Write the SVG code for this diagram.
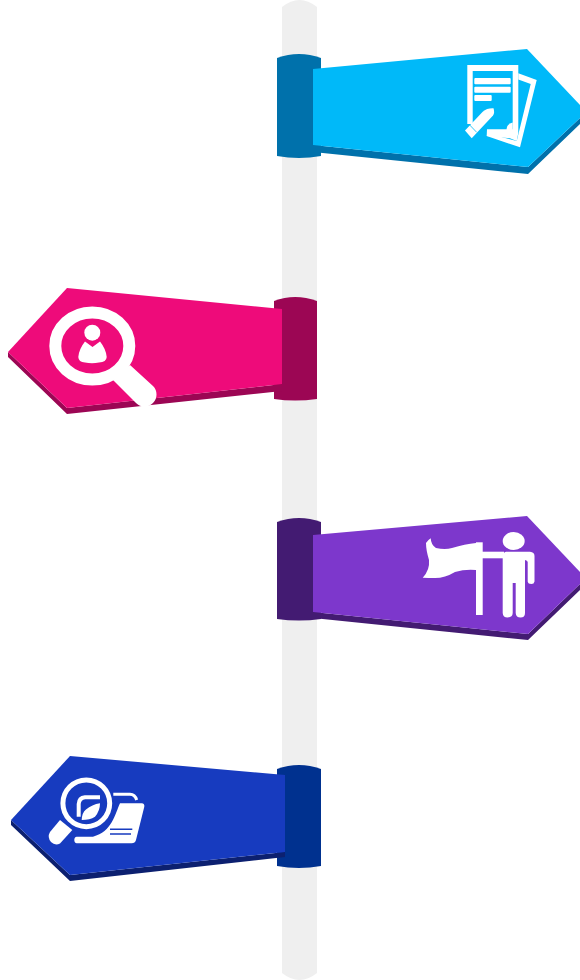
<svg xmlns="http://www.w3.org/2000/svg" width="580" height="980" viewBox="0 0 580 980">
<style>
.w{fill:#fff}
.wl{fill:none;stroke:#fff}
</style>
<rect width="580" height="980" fill="#fff"/>
<path id="pole" d="M282 7Q299.500 -7 317 7V973Q299.500 987 282 973Z" fill="#efefef"/>

<g id="sign-document">
<path d="M277 58Q299 50 321 58V156Q299 160 277 156Z" fill="#0071ab"/>
<path d="M313 145V152L528 174L580 124V118L528 167Z" fill="#0071ab"/>
<path d="M313 69L527 49L580 105V118L528 167L313 145Z" fill="#00b9f9"/>
<path class="w" fill-rule="evenodd" d="M467.300 65H518.300V133L516.700 141L510 138.300L486.700 136L487 129.300H512.700V71H472.700V124H467.300Z"/>
<path class="w" fill-rule="evenodd" d="M518.300 73.300L536.700 80L520 147.300L486.700 136L488 133.500L516.700 141L530.700 84L518.300 79.500Z"/>
<path class="w" d="M506.500 130Q506.500 124 512.700 122.500V132L506.500 135Z"/>
<rect class="w" x="474.300" y="78" width="36.400" height="6.300" rx="1"/>
<rect class="w" x="474.300" y="86.700" width="36.400" height="6" rx="1"/>
<rect class="w" x="474.300" y="95" width="17.400" height="6" rx="1"/>
<path class="w" d="M493.500 108.300Q495 112.500 493 115.500L471.700 138.300L465 130.500L482.700 111.700Q487 108 493.500 108.300Z"/>
<path d="M469.700 125L476.700 132.300" stroke="#00b9f9" stroke-width="0.800" fill="none"/>
</g>

<g id="sign-search-person">
<path d="M274 301Q295 293 317 301V399Q295 402 274 399Z" fill="#9c0654"/>
<path d="M8 352V357L67 414L282 391V384L67 408Z" fill="#9c0654"/>
<path d="M67 288L282 309V384L67 408L8 352Z" fill="#ee0b7a"/>
<ellipse cx="92.300" cy="346" rx="37" ry="33.500" fill="none" stroke="#fff" stroke-width="12"/>
<path class="w" d="M113 380L130 365L153 386A12 12 0 0 1 136 403Z"/>
<circle class="w" cx="92.300" cy="332.700" r="8"/>
<path class="w" d="M85 341.500L92.500 347L100 341.500Q106 349 106.700 357Q106.500 362 99 362.500Q92 364 85 362.500Q78.500 362 78.300 357Q79 349 85 341.500Z"/>
</g>

<g id="sign-flag-person">
<path d="M277 522Q299 514 321 522V619Q299 622 277 619Z" fill="#431b72"/>
<path d="M313 612V618L528 640L580 590V584L528 634Z" fill="#431b72"/>
<path d="M313 535L527 516L580 572V584L528 634L313 612Z" fill="#7d37cc"/>
<rect class="w" x="476" y="542.300" width="6.700" height="72.700"/>
<rect class="w" x="482" y="551.700" width="22" height="6.600"/>
<ellipse class="w" cx="513.700" cy="541" rx="11" ry="9"/>
<path class="w" d="M506 551.700H530Q534.500 552 534.500 556V581.500Q534 584 531.500 584Q528 584 527.700 581.500V562Q527.500 560.500 525 560V613Q525 617.500 520.500 617.500Q516 617.500 515.700 613V583H512.700V613Q512.500 617.500 507.500 617.500Q503 617.500 502.700 613V558Q503 552 506 551.700Z"/>
<path class="w" d="M430.700 538.300Q431 545 436 548Q445 550 452 548Q465 544 476 543V570Q465 569 455 572Q445 578 435 578Q428 578 422.700 577.700Q430 570 429 560Q426 550 426 543Q428 540 430.700 538.300Z"/>
</g>

<g id="sign-search-folder">
<path d="M277 769Q299 761 321 769V866Q299 870 277 866Z" fill="#00318f"/>
<path d="M11 820V825L70 881L285 857V852L70 875Z" fill="#0c2070"/>
<path d="M70 756L285 775V852L70 875L11 820Z" fill="#173bbf"/>
<path class="wl" stroke-width="3" d="M113.300 794.300H130Q135 794.500 136.700 800"/>
<path class="w" d="M120 803.300H141.700Q144.800 803.500 144.300 806.700L136 840Q135 843.300 131.700 843.300H76.700Q74.300 843 74.300 840Q74.300 836.900 76.700 836.700H93C112 832 115 814 120 803.300Z"/>
<path d="M110 829.300H132.300M110 834H131" stroke="#173bbf" stroke-width="1.500" fill="none"/>
<circle cx="86.300" cy="803.300" r="23.400" fill="#173bbf" stroke="#fff" stroke-width="5"/>
<path class="w" d="M60 820L72.300 830L60 843.500Q55 846 51 842Q47 837 50 832Z"/>
<path class="wl" stroke-width="4" d="M78.700 816.700V804Q79 798 85 797.300H100"/>
<path class="w" d="M81.700 820Q82 812.500 86 809.500Q92 804.500 100 803.300Q100 811 95 816.700Q90 820 81.700 820Z"/>
</g>
</svg>
